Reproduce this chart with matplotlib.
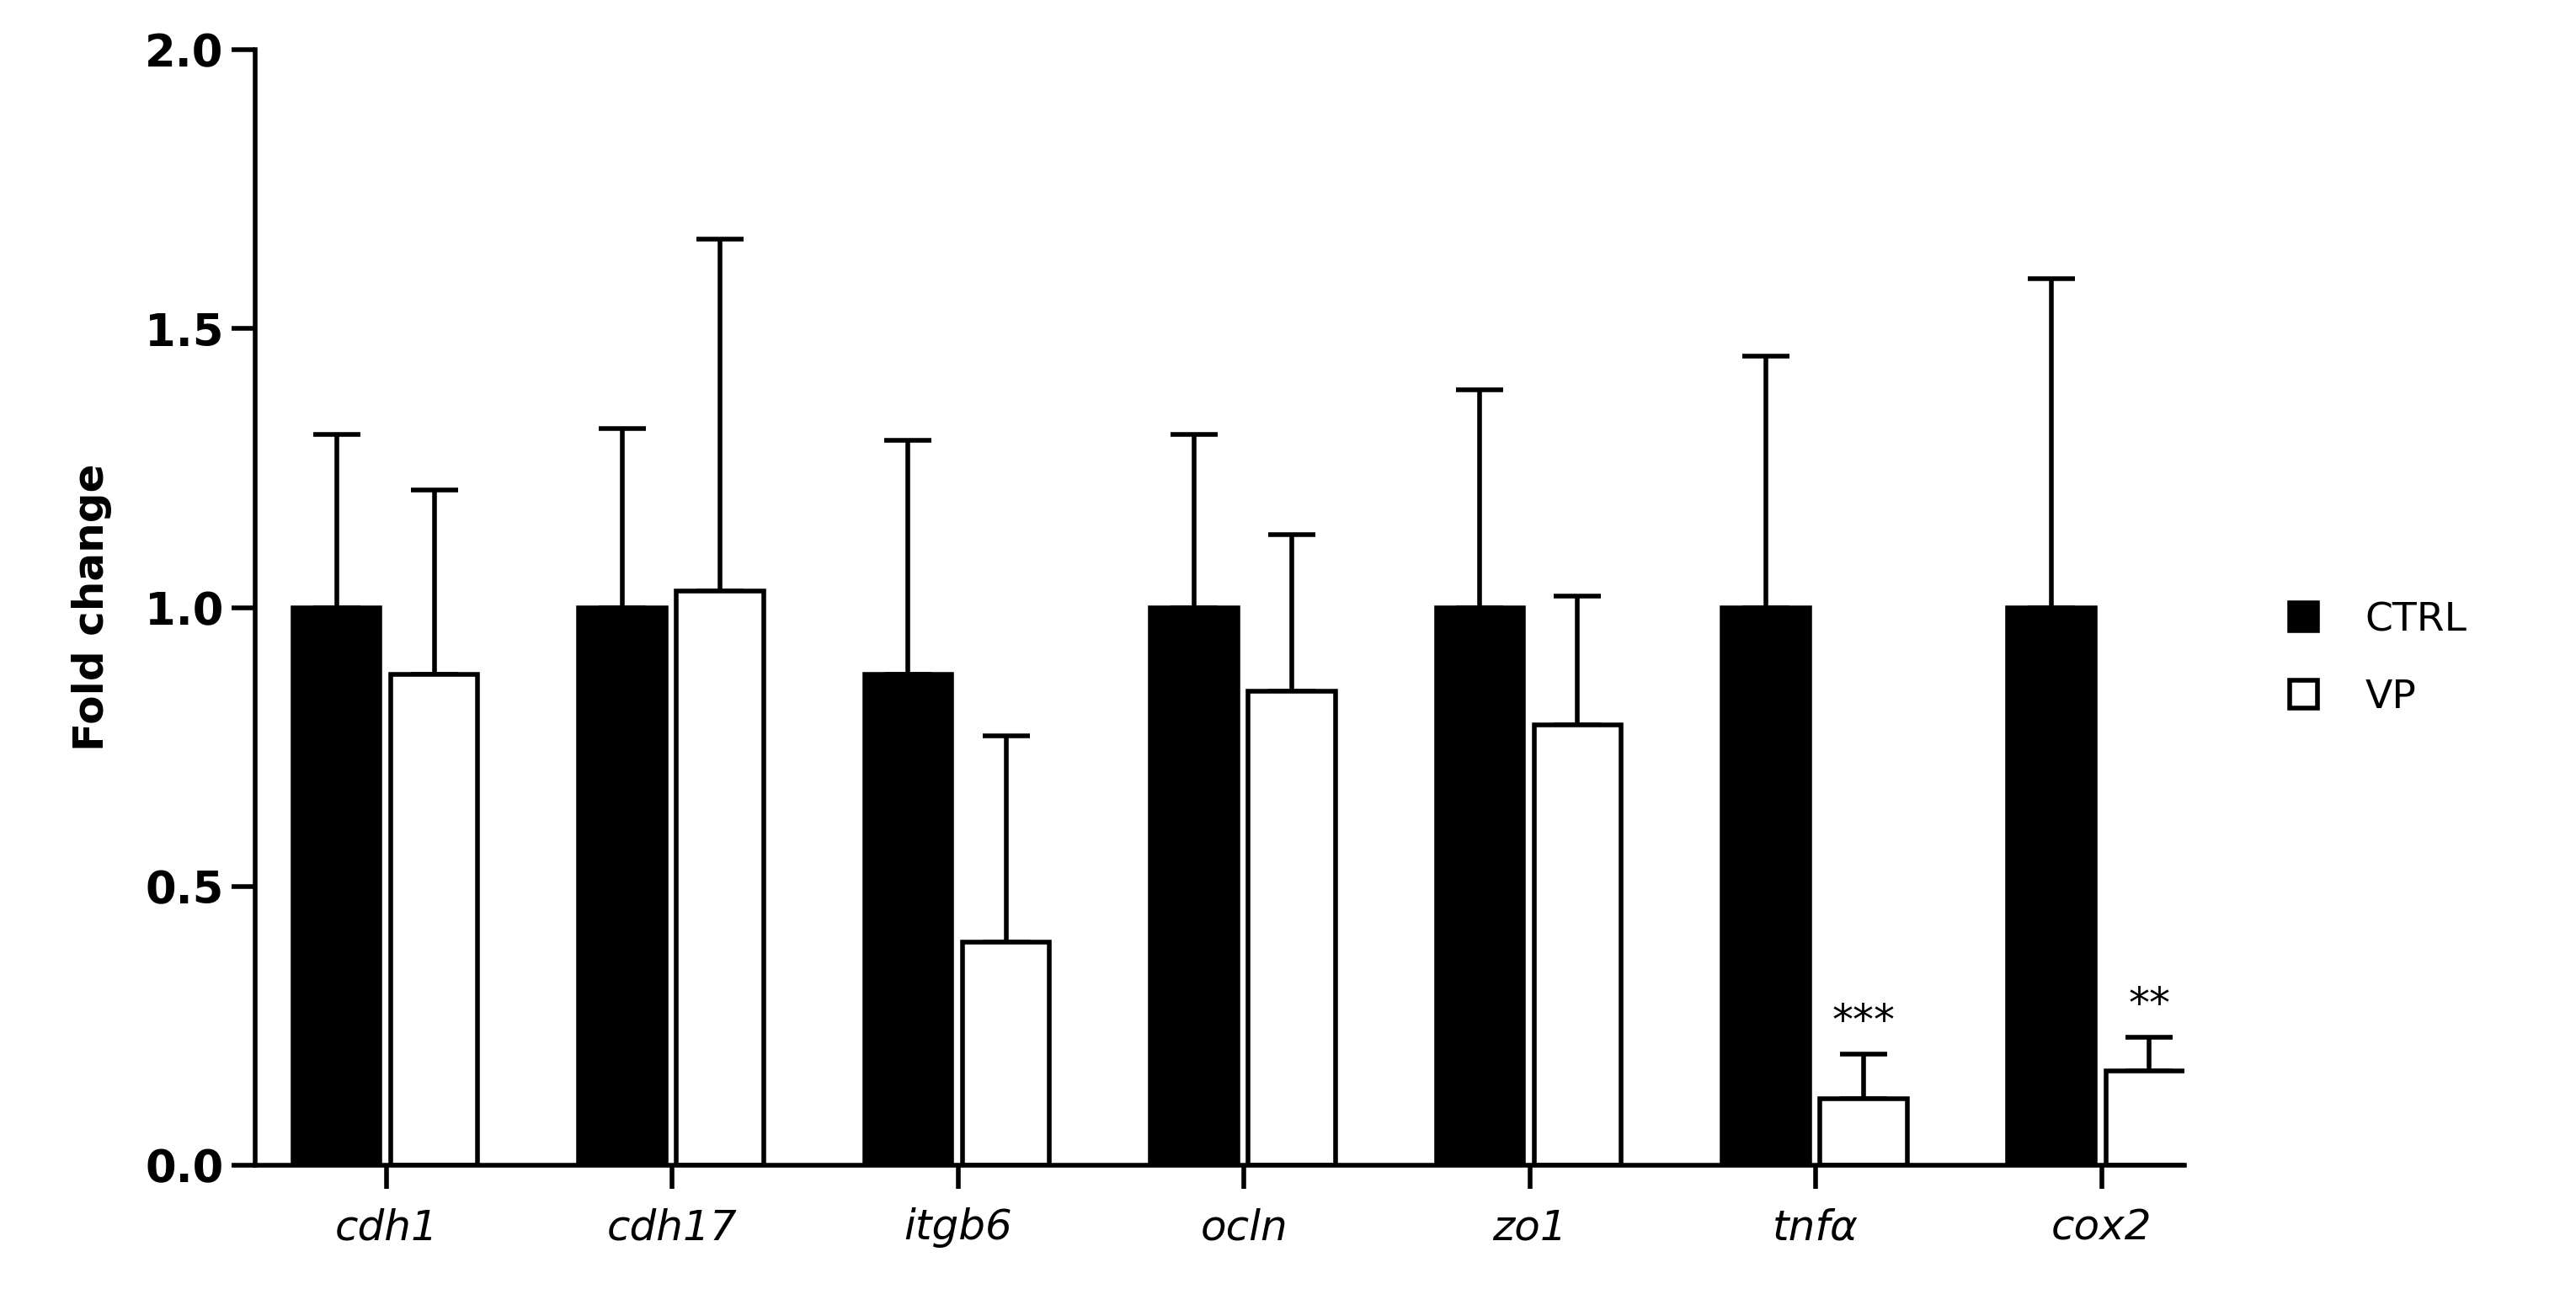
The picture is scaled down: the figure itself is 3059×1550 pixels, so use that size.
import matplotlib
matplotlib.use("Agg")
import matplotlib.pyplot as plt
from matplotlib.patches import Patch
import numpy as np

genes = ["cdh1", "cdh17", "itgb6", "ocln", "zo1", "tnfα", "cox2"]
ctrl = [1.0, 1.0, 0.88, 1.0, 1.0, 1.0, 1.0]
ctrl_err = [0.31, 0.32, 0.42, 0.31, 0.39, 0.45, 0.59]
vp = [0.88, 1.03, 0.40, 0.85, 0.79, 0.12, 0.17]
vp_err = [0.33, 0.63, 0.37, 0.28, 0.23, 0.08, 0.06]
sig = ["", "", "", "", "", "***", "**"]

fig = plt.figure(figsize=(15.295, 7.75), dpi=200)
ax = fig.add_axes([0.099, 0.107, 0.749, 0.855])
x = np.arange(len(genes))
w = 0.305
lw = 2.0
ax.bar(x - 0.175, ctrl, w, color="black", edgecolor="black", linewidth=lw, zorder=2)
ax.bar(x + 0.167, vp, w, color="white", edgecolor="black", linewidth=lw, zorder=2)
ax.errorbar(x - 0.175, ctrl, yerr=[np.zeros(len(x)), ctrl_err], fmt="none",
            ecolor="black", elinewidth=lw, capsize=10, capthick=lw, zorder=1)
ax.errorbar(x + 0.167, vp, yerr=[np.zeros(len(x)), vp_err], fmt="none",
            ecolor="black", elinewidth=lw, capsize=10, capthick=lw, zorder=1)
for i, s in enumerate(sig):
    if s:
        ax.text(x[i] + 0.167, vp[i] + vp_err[i] + 0.02, s, ha="center", va="bottom", fontsize=18)

ax.set_xlim(-0.46, 6.29)
ax.set_ylim(0, 2.0)
ax.set_yticks([0, 0.5, 1.0, 1.5, 2.0])
ax.set_yticklabels(["0.0", "0.5", "1.0", "1.5", "2.0"], fontsize=19, fontweight="bold")
ax.set_xticks(x)
ax.set_xticklabels(genes, fontsize=18, style="italic")
ax.tick_params(axis="both", width=lw, length=10, direction="out")
ax.tick_params(axis="x", pad=8)
for sp in ["top", "right"]:
    ax.spines[sp].set_visible(False)
for sp in ["left", "bottom"]:
    ax.spines[sp].set_linewidth(lw)
ax.set_ylabel("Fold change", fontsize=18, fontweight="bold", labelpad=14)

handles = [Patch(facecolor="black", edgecolor="black", linewidth=lw, label="CTRL"),
           Patch(facecolor="white", edgecolor="black", linewidth=lw, label="VP")]
fig.legend(handles=handles, loc="center left", bbox_to_anchor=(0.875, 0.495),
           frameon=False, fontsize=17, handlelength=0.7, handleheight=0.7,
           handletextpad=1.2, labelspacing=1.0)
fig.savefig("out.png", dpi=200)
